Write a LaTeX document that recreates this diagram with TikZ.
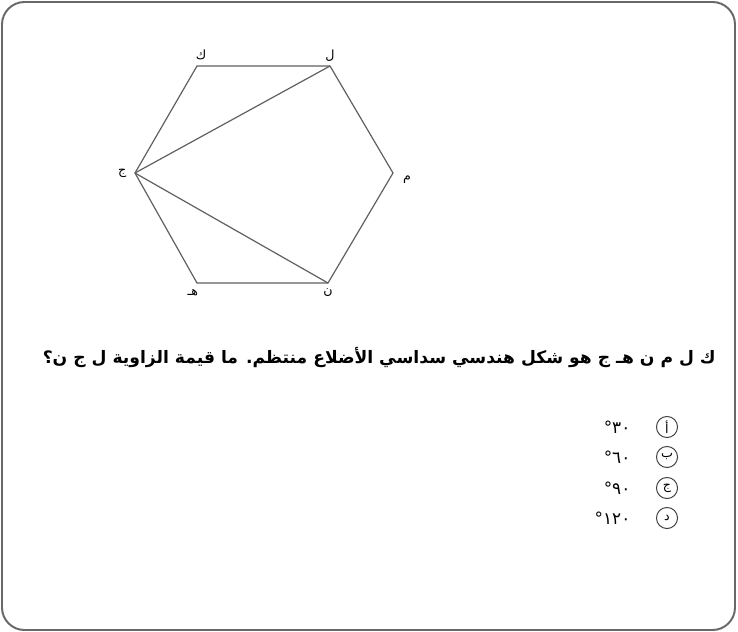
\documentclass[tikz,border=0pt]{standalone}
\usepackage{fontspec}
\usetikzlibrary{positioning}
\TeXXeTstate=1
\newfontfamily\arabicfont[Script=Arabic]{DejaVu Sans}
\definecolor{linegray}{RGB}{95,95,95}
\definecolor{framegray}{RGB}{105,105,105}

\begin{document}
\begin{tikzpicture}[x=0.025cm, y=-0.025cm,
    edge/.style={draw=linegray, line width=0.85pt},
    vlabel/.style={font=\arabicfont\small, inner sep=1pt},
    choice/.style={circle, draw=black!75, line width=0.7pt, minimum size=15pt,
                   inner sep=0pt, font=\arabicfont\small},
    answer/.style={font=\arabicfont\fontsize{12}{14}\selectfont, inner sep=1pt}]
    \useasboundingbox (0,0) rectangle (738,632);
    % outer frame
    \draw[framegray, line width=1.4pt, rounded corners=16pt] (2,2) rectangle (735,630);

    % hexagon corners
    \coordinate (K) at (197,66);
    \coordinate (L) at (330,66);
    \coordinate (M) at (393,173);
    \coordinate (N) at (328,283);
    \coordinate (H) at (197,283);
    \coordinate (J) at (135,173);
    \draw[edge] (K) -- (L) -- (M) -- (N) -- (H) -- (J) -- cycle;
    \draw[edge] (J) -- (L);
    \draw[edge] (J) -- (N);

    \node[vlabel, above right=3pt and -2pt of K] (labK) {\beginR ك\endR};
    \node[vlabel, above=2pt of L] (labL) {\beginR ل\endR};
    \node[vlabel, right=6pt of M, yshift=-5pt] (labM) {\beginR م\endR};
    \node[vlabel, below=3pt of N] (labN) {\beginR ن\endR};
    \node[vlabel, below left=3pt and -2pt of H] (labH) {\beginR هـ\endR};
    \node[vlabel, left=5pt of J] (labJ) {\beginR ج\endR};

    % question
    \node[anchor=east, font=\arabicfont\bfseries\fontsize{12.2}{15}\selectfont, inner sep=0pt] (question) at (716,357)
        {\beginR ك ل م ن هـ ج هو شكل هندسي سداسي الأضلاع منتظم. ما قيمة الزاوية ل ج ن؟\endR};

    % choices
    \foreach \letter/\val/\yy [count=\i] in {أ/٣٠/427, ب/٦٠/457, ج/٩٠/488, د/١٢٠/518} {
        \node[choice] (opt\i) at (667,\yy) {\beginR\letter\endR};
        \node[answer, left=17pt of opt\i] (val\i) {\beginR\beginL\val\endL{}°\endR};
    }
\end{tikzpicture}
\end{document}
